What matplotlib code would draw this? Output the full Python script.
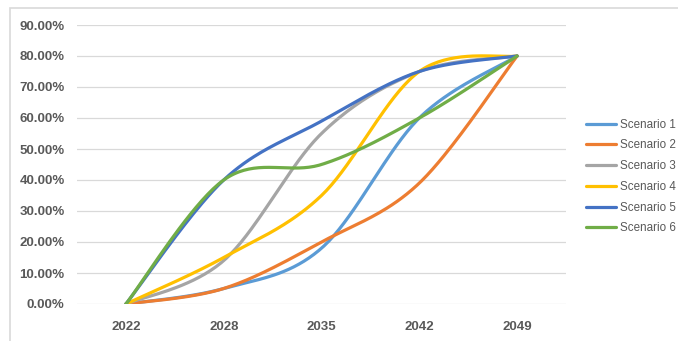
import numpy as np
import matplotlib.pyplot as plt
from matplotlib.patches import Rectangle

# chart values
years = ['2022', '2028', '2035', '2042', '2049']
scenario_names = ['Scenario 1', 'Scenario 2', 'Scenario 3',
                  'Scenario 4', 'Scenario 5', 'Scenario 6']
s1 = [0.0, 0.05, 0.18, 0.60, 0.80]
s2 = [0.0, 0.05, 0.20, 0.39, 0.80]
s3 = [0.0, 0.14, 0.55, 0.75, 0.80]
s4 = [0.0, 0.15, 0.35, 0.75, 0.80]
s5 = [0.0, 0.40, 0.59, 0.75, 0.80]
s6 = [0.0, 0.40, 0.45, 0.60, 0.80]
colors = ['#5B9BD5', '#ED7D31', '#A5A5A5', '#FFC000', '#4472C4', '#70AD47']


def smooth(xs, ys, n=40):
    # excel style smoothed line: cubic bezier through each point,
    # control points taken from the neighbours (catmull-rom)
    xs = np.asarray(xs, float)
    ys = np.asarray(ys, float)
    px = np.concatenate([[xs[0]], xs, [xs[-1]]])
    py = np.concatenate([[ys[0]], ys, [ys[-1]]])
    out_x, out_y = [], []
    t = np.linspace(0, 1, n)
    for i in range(1, len(px) - 2):
        x0, y0 = px[i], py[i]
        x3, y3 = px[i + 1], py[i + 1]
        x1 = x0 + (px[i + 1] - px[i - 1]) / 6
        y1 = y0 + (py[i + 1] - py[i - 1]) / 6
        x2 = x3 - (px[i + 2] - px[i]) / 6
        y2 = y3 - (py[i + 2] - py[i]) / 6
        bx = (1-t)**3*x0 + 3*(1-t)**2*t*x1 + 3*(1-t)*t**2*x2 + t**3*x3
        by = (1-t)**3*y0 + 3*(1-t)**2*t*y1 + 3*(1-t)*t**2*y2 + t**3*y3
        out_x.extend(bx)
        out_y.extend(by)
    return np.array(out_x), np.array(out_y)


fig = plt.figure(figsize=(6.78, 3.41), dpi=100)
ax = fig.add_axes([77/678, 1 - 304/341, (566 - 77)/678, (304 - 25)/341])

# outer chart border (only top and left visible)
fig.patches.append(Rectangle((10/678, -0.2), 1.2, 1.2 - 8/341,
                             transform=fig.transFigure, fill=False,
                             edgecolor='#D9D9D9', linewidth=1.2))

x = np.arange(len(years))
for vals, name, col in zip([s1, s2, s3, s4, s5, s6], scenario_names, colors):
    sx, sy = smooth(x, vals)
    ax.plot(sx, sy, color=col, linewidth=2.3, label=name,
            solid_capstyle='round')

ax.set_xlim(-0.5, len(years) - 0.5)
ax.set_ylim(0, 0.9)
ax.set_yticks(np.arange(0, 0.91, 0.1))
ax.set_yticklabels([f'{v*100:.2f}%' for v in np.arange(0, 0.91, 0.1)])
ax.set_xticks(x)
ax.set_xticklabels(years)
ax.grid(axis='y', color='#D9D9D9', linewidth=0.9)
ax.set_axisbelow(True)
for sp in ax.spines.values():
    sp.set_visible(False)
ax.tick_params(length=0, colors='#595959', labelsize=9.5)
ax.tick_params(axis='y', pad=9)
ax.tick_params(axis='x', pad=12)
for lbl in ax.get_xticklabels() + ax.get_yticklabels():
    lbl.set_fontfamily('Liberation Sans')
    lbl.set_fontweight('bold')

leg = fig.legend(loc='center left', bbox_to_anchor=(586/678, 1 - 176.5/341),
                 frameon=False, borderpad=0, borderaxespad=0,
                 handlelength=2.6, handletextpad=0.35, labelspacing=0.75,
                 prop={'family': 'Liberation Sans', 'size': 8.4})
for t in leg.get_texts():
    t.set_color('#595959')

fig.savefig('out.png', dpi=100)
